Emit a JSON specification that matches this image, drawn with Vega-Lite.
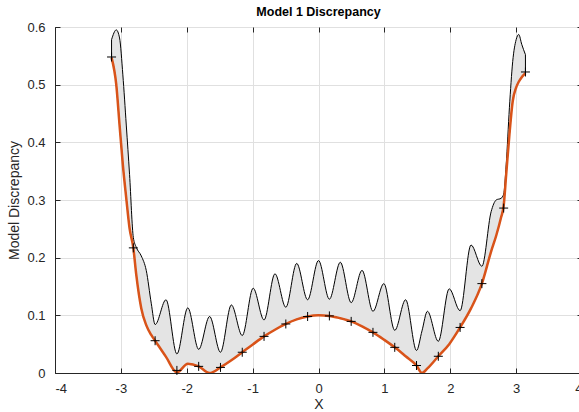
{
  "$schema": "https://vega.github.io/schema/vega-lite/v6.json",
  "width": 527,
  "height": 346,
  "autosize": {"type": "none"},
  "padding": {"left": 55, "top": 27, "right": 0, "bottom": 39},
  "background": "white",
  "title": {"text": "Model 1 Discrepancy", "font": "Liberation Sans", "fontSize": 12.5, "fontWeight": "bold", "color": "#000000", "offset": 3, "anchor": "middle"},
  "config": {
    "view": {"stroke": "#262626", "strokeWidth": 1},
    "axis": {"labelFont": "Liberation Sans", "titleFont": "Liberation Sans", "labelFontSize": 13, "titleFontSize": 14, "titleFontWeight": "normal", "labelColor": "#262626", "titleColor": "#262626", "domainColor": "#262626", "tickColor": "#262626", "gridColor": "#e0e0e0", "gridWidth": 1}
  },
  "datasets": {
    "curve": [
      {"x": -3.1416, "lo": 0.547, "hi": 0.578},
      {"x": -3.070, "lo": 0.500, "hi": 0.595},
      {"x": -3.020, "lo": 0.430, "hi": 0.581},
      {"x": -2.970, "lo": 0.361, "hi": 0.517},
      {"x": -2.918, "lo": 0.303, "hi": 0.430},
      {"x": -2.868, "lo": 0.251, "hi": 0.344},
      {"x": -2.8109, "lo": 0.217, "hi": 0.235},
      {"x": -2.766, "lo": 0.170, "hi": 0.218},
      {"x": -2.690, "lo": 0.112, "hi": 0.203},
      {"x": -2.615, "lo": 0.083, "hi": 0.178},
      {"x": -2.539, "lo": 0.066, "hi": 0.121},
      {"x": -2.4802, "lo": 0.056, "hi": 0.084},
      {"x": -2.315, "lo": 0.028, "hi": 0.127},
      {"x": -2.1495, "lo": 0.001, "hi": 0.033},
      {"x": -1.984, "lo": 0.016, "hi": 0.113},
      {"x": -1.8188, "lo": 0.0115, "hi": 0.041},
      {"x": -1.653, "lo": 0.0, "hi": 0.098},
      {"x": -1.4881, "lo": 0.0097, "hi": 0.036},
      {"x": -1.3228, "lo": 0.022, "hi": 0.118},
      {"x": -1.1574, "lo": 0.036, "hi": 0.065},
      {"x": -0.992, "lo": 0.050, "hi": 0.147},
      {"x": -0.8267, "lo": 0.0635, "hi": 0.092},
      {"x": -0.661, "lo": 0.075, "hi": 0.172},
      {"x": -0.496, "lo": 0.085, "hi": 0.114},
      {"x": -0.331, "lo": 0.093, "hi": 0.190},
      {"x": -0.1653, "lo": 0.098, "hi": 0.127},
      {"x": 0.0, "lo": 0.100, "hi": 0.195},
      {"x": 0.1653, "lo": 0.099, "hi": 0.128},
      {"x": 0.331, "lo": 0.095, "hi": 0.192},
      {"x": 0.496, "lo": 0.0895, "hi": 0.122},
      {"x": 0.661, "lo": 0.081, "hi": 0.178},
      {"x": 0.8267, "lo": 0.0705, "hi": 0.107},
      {"x": 0.992, "lo": 0.058, "hi": 0.155},
      {"x": 1.1574, "lo": 0.0445, "hi": 0.074},
      {"x": 1.3228, "lo": 0.029, "hi": 0.127},
      {"x": 1.4881, "lo": 0.013, "hi": 0.039},
      {"x": 1.571, "lo": 0.0, "hi": 0.073},
      {"x": 1.6535, "lo": 0.008, "hi": 0.107},
      {"x": 1.8188, "lo": 0.029, "hi": 0.055},
      {"x": 1.984, "lo": 0.050, "hi": 0.146},
      {"x": 2.1495, "lo": 0.079, "hi": 0.108},
      {"x": 2.315, "lo": 0.112, "hi": 0.222},
      {"x": 2.4802, "lo": 0.155, "hi": 0.185},
      {"x": 2.621, "lo": 0.211, "hi": 0.280},
      {"x": 2.697, "lo": 0.238, "hi": 0.300},
      {"x": 2.772, "lo": 0.270, "hi": 0.303},
      {"x": 2.8109, "lo": 0.290, "hi": 0.310},
      {"x": 2.849, "lo": 0.344, "hi": 0.361},
      {"x": 2.898, "lo": 0.413, "hi": 0.460},
      {"x": 2.948, "lo": 0.471, "hi": 0.540},
      {"x": 3.000, "lo": 0.495, "hi": 0.578},
      {"x": 3.040, "lo": 0.505, "hi": 0.587},
      {"x": 3.085, "lo": 0.513, "hi": 0.570},
      {"x": 3.1416, "lo": 0.520, "hi": 0.552}
    ],
    "obs": [
      {"x": -3.1416, "y": 0.548},
      {"x": -2.8109, "y": 0.217},
      {"x": -2.4802, "y": 0.056},
      {"x": -2.1495, "y": 0.0045},
      {"x": -1.8188, "y": 0.0115},
      {"x": -1.4881, "y": 0.0097},
      {"x": -1.1574, "y": 0.036},
      {"x": -0.8267, "y": 0.0635},
      {"x": -0.4960, "y": 0.085},
      {"x": -0.1653, "y": 0.098},
      {"x": 0.1653, "y": 0.099},
      {"x": 0.4960, "y": 0.0895},
      {"x": 0.8267, "y": 0.0705},
      {"x": 1.1574, "y": 0.0445},
      {"x": 1.4881, "y": 0.013},
      {"x": 1.8188, "y": 0.029},
      {"x": 2.1495, "y": 0.079},
      {"x": 2.4802, "y": 0.155},
      {"x": 2.8109, "y": 0.286},
      {"x": 3.1416, "y": 0.522}
    ]
  },
  "layer": [
    {
      "data": {"name": "curve"},
      "mark": {"type": "area", "interpolate": "monotone", "fill": "#e4e4e4", "stroke": "#000000", "strokeWidth": 1, "clip": true},
      "encoding": {
        "x": {"field": "x", "type": "quantitative", "scale": {"domain": [-4, 4], "nice": false, "zero": false},
          "axis": {"title": "X", "values": [-4, -3, -2, -1, 0, 1, 2, 3, 4], "labelExpr": "'' + datum.value", "grid": true, "tickSize": -5, "labelPadding": 14, "titlePadding": 2, "domain": true}},
        "y": {"field": "hi", "type": "quantitative", "scale": {"domain": [0, 0.6], "nice": false, "zero": false},
          "axis": {"title": "Model Discrepancy", "values": [0, 0.1, 0.2, 0.3, 0.4, 0.5, 0.6], "labelExpr": "datum.value == 0 ? '0' : format(datum.value, '.1f')", "grid": true, "tickSize": -5, "labelPadding": 15, "titlePadding": 5}},
        "y2": {"field": "lo"}
      }
    },
    {
      "data": {"name": "curve"},
      "mark": {"type": "line", "interpolate": "monotone", "color": "#D95319", "strokeWidth": 2.5, "clip": true},
      "encoding": {
        "x": {"field": "x", "type": "quantitative", "axis": null},
        "y": {"field": "lo", "type": "quantitative", "axis": null}
      }
    },
    {
      "data": {"name": "obs"},
      "mark": {"type": "point", "shape": "M-1,0L1,0M0,-1L0,1", "filled": false, "stroke": "#000000", "strokeWidth": 1, "size": 81, "opacity": 1},
      "encoding": {
        "x": {"field": "x", "type": "quantitative", "axis": {"orient": "top", "labels": false, "title": null, "grid": false, "domain": false, "tickSize": -5, "values": [-4, -3, -2, -1, 0, 1, 2, 3, 4]}},
        "y": {"field": "y", "type": "quantitative", "axis": {"orient": "right", "labels": false, "title": null, "grid": false, "domain": false, "tickSize": -5, "values": [0, 0.1, 0.2, 0.3, 0.4, 0.5, 0.6]}}
      }
    }
  ],
  "resolve": {"axis": {"x": "independent", "y": "independent"}}
}
